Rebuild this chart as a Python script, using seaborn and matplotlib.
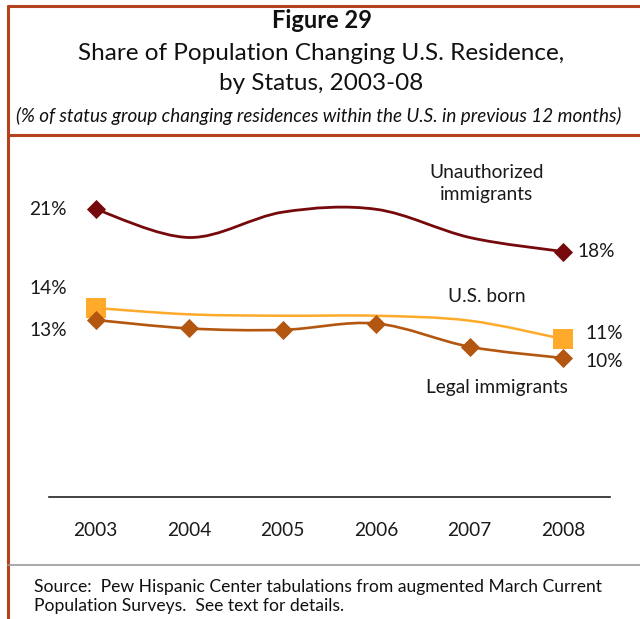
import matplotlib
matplotlib.use("Agg")
import matplotlib.pyplot as plt
from matplotlib.path import Path
from matplotlib.patches import PathPatch
from matplotlib.lines import Line2D
import numpy as np
import pandas as pd
import seaborn as sns

# data
years = [2003, 2004, 2005, 2006, 2007, 2008]
unauthorized = [21.0, 19.0, 20.8, 21.0, 19.0, 18.0]
us_born = [14.0, 13.55, 13.45, 13.45, 13.1, 11.8]
legal = [13.15, 12.55, 12.45, 12.9, 11.25, 10.45]

c_unauth = "#76090b"
c_usborn = "#ffaa2a"
c_legal = "#b3560f"
c_frame = "#b5421e"

sns.set_style("white")
plt.rcParams["font.family"] = ["Lato", "DejaVu Sans"]

W, H = 640, 619


def px(x, y):
    return x / W, 1 - y / H


def smooth_path(xs, ys):
    # Excel-like smoothed line: cubic bezier through the points
    pts = np.column_stack([xs, ys]).astype(float)
    ext = np.vstack([pts[0], pts, pts[-1]])
    verts = [tuple(pts[0])]
    codes = [Path.MOVETO]
    for i in range(len(pts) - 1):
        p0, p1, p2, p3 = ext[i], ext[i + 1], ext[i + 2], ext[i + 3]
        c1 = p1 + (p2 - p0) / 6
        c2 = p2 - (p3 - p1) / 6
        verts += [tuple(c1), tuple(c2), tuple(p2)]
        codes += [Path.CURVE4] * 3
    return Path(verts, codes)


fig = plt.figure(figsize=(6.4, 6.19), dpi=100)
ax = fig.add_axes([49 / W, (H - 497) / H, (610 - 49) / W, (497 - 150) / H])

for vals, col, lw in [(unauthorized, c_unauth, 2.0), (us_born, c_usborn, 1.8), (legal, c_legal, 1.9)]:
    ax.add_patch(PathPatch(smooth_path(years, vals), facecolor="none", edgecolor=col, lw=lw, zorder=2))

ends = pd.DataFrame({"year": [years[0], years[-1]],
                     "unauth": [unauthorized[0], unauthorized[-1]],
                     "usborn": [us_born[0], us_born[-1]]})
sns.scatterplot(data=ends, x="year", y="unauth", marker="D", s=95, color=c_unauth,
                edgecolor=c_unauth, linewidth=0, ax=ax, zorder=3)
sns.scatterplot(data=ends, x="year", y="usborn", marker="s", s=190, color=c_usborn,
                edgecolor=c_usborn, linewidth=0, ax=ax, zorder=3)
sns.scatterplot(x=years, y=legal, marker="D", s=95, color=c_legal,
                edgecolor=c_legal, linewidth=0, ax=ax, zorder=4)

ax.set_xlim(2002.5, 2008.5)
ax.set_ylim(21 - (497 - 209.3) / 14.1, 21 + (209.3 - 150) / 14.1)
ax.set_xticks(years)
ax.set_xticklabels([str(y) for y in years])
ax.set_yticks([])
ax.set_xlabel("")
ax.set_ylabel("")
ax.tick_params(axis="x", length=0, pad=18, labelsize=13.8, colors="#1a1a1a")
for s in ["top", "right", "left"]:
    ax.spines[s].set_visible(False)
ax.spines["bottom"].set_color("#222222")
ax.spines["bottom"].set_linewidth(1.2)
ax.patch.set_alpha(0)

lab = dict(textcoords="offset pixels", fontsize=13.8, color="#1a1a1a", va="center")
ax.annotate(f"{unauthorized[0]:.0f}%", (years[0], unauthorized[0]), xytext=(-29, 0), ha="right", **lab)
ax.annotate("14%", (years[0], us_born[0]), xytext=(-29, 19), ha="right", **lab)
ax.annotate("13%", (years[0], legal[0]), xytext=(-29, -11), ha="right", **lab)
ax.annotate(f"{unauthorized[-1]:.0f}%", (years[-1], unauthorized[-1]), xytext=(14, 0), ha="left", **lab)
ax.annotate("11%", (years[-1], us_born[-1]), xytext=(22, 6), ha="left", **lab)
ax.annotate("10%", (years[-1], legal[-1]), xytext=(22, -3), ha="left", **lab)

ax.annotate("Unauthorized\nimmigrants", (years[-1], unauthorized[-1]), xytext=(-77, 68),
            ha="center", linespacing=1.35, **lab)
ax.annotate("U.S. born", (years[-1], us_born[-1]), xytext=(-76, 43), ha="center", **lab)
ax.annotate("Legal immigrants", (years[-1], legal[-1]), xytext=(-66, -29), ha="center", **lab)

# titles
fig.text(*px(322, 20), "Figure 29", ha="center", va="center", fontsize=17,
         fontweight="bold", color="#111111")
fig.text(*px(321, 54), "Share of Population Changing U.S. Residence,", ha="center",
         va="center", fontsize=17.5, color="#111111")
fig.text(*px(321, 84), "by Status, 2003-08", ha="center", va="center", fontsize=17.5,
         color="#111111")
fig.text(*px(319, 116), "(% of status group changing residences within the U.S. in previous 12 months)",
         ha="center", va="center", fontsize=13.6, style="italic", color="#111111")

# source
fig.text(*px(34, 587), "Source:  Pew Hispanic Center tabulations from augmented March Current",
         ha="left", va="center", fontsize=12.6, color="#111111")
fig.text(*px(34, 606), "Population Surveys.  See text for details.",
         ha="left", va="center", fontsize=12.6, color="#111111")

# frame
fig.add_artist(Line2D([8 / W, 1], [1 - 6 / H, 1 - 6 / H], color=c_frame, lw=2.2))
fig.add_artist(Line2D([8 / W, 8 / W], [0, 1 - 6 / H], color=c_frame, lw=2.2))
fig.add_artist(Line2D([8 / W, 1], [1 - 135 / H, 1 - 135 / H], color=c_frame, lw=2.2))
fig.add_artist(Line2D([8 / W, 1], [1 - 565 / H, 1 - 565 / H], color="#9a9a9a", lw=1.2))

fig.savefig("out.png", dpi=100)
